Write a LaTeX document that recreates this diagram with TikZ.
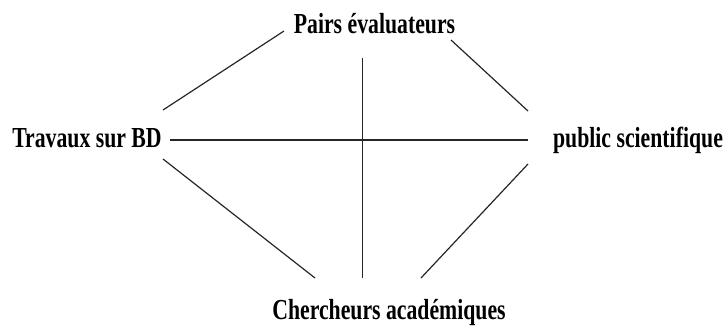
\documentclass[tikz,border=0pt]{standalone}
\usepackage{fontspec}
\setmainfont{Liberation Serif}[FakeStretch=0.75]
\begin{document}
\begin{tikzpicture}[x=1pt,y=-1pt,
  label/.style={inner sep=0pt,anchor=base,font=\bfseries\fontsize{29}{32}\selectfont},
  link/.style={line width=1.2pt,color=black!85}]
\useasboundingbox (0,0) rectangle (728,327);
% text nodes
\node[label] (pairs) at (374.5,33.5) {Pairs évaluateurs};
\node[label] (travaux) at (87,147.5) {Travaux sur BD};
\node[label] (public) at (638,147.5) {public scientifique};
\node[label] (chercheurs) at (389,319.5) {Chercheurs académiques};
% connector end points
\coordinate (tlA) at (163,110);
\coordinate (tlB) at (284,31);
\coordinate (trA) at (451,40);
\coordinate (trB) at (528,111);
\coordinate (blA) at (163,159);
\coordinate (blB) at (315,278);
\coordinate (brA) at (528,164);
\coordinate (brB) at (421,278);
\coordinate (hA) at (170,140);
\coordinate (hB) at (528,140);
\coordinate (vA) at (362.5,58);
\coordinate (vB) at (362.5,278);
% connectors
\draw[link] (tlA) -- (tlB);
\draw[link] (trA) -- (trB);
\draw[link] (blA) -- (blB);
\draw[link] (brA) -- (brB);
\draw[link] (hA) -- (hB);
\draw[link,line width=1pt] (vA) -- (vB);
\end{tikzpicture}
\end{document}
